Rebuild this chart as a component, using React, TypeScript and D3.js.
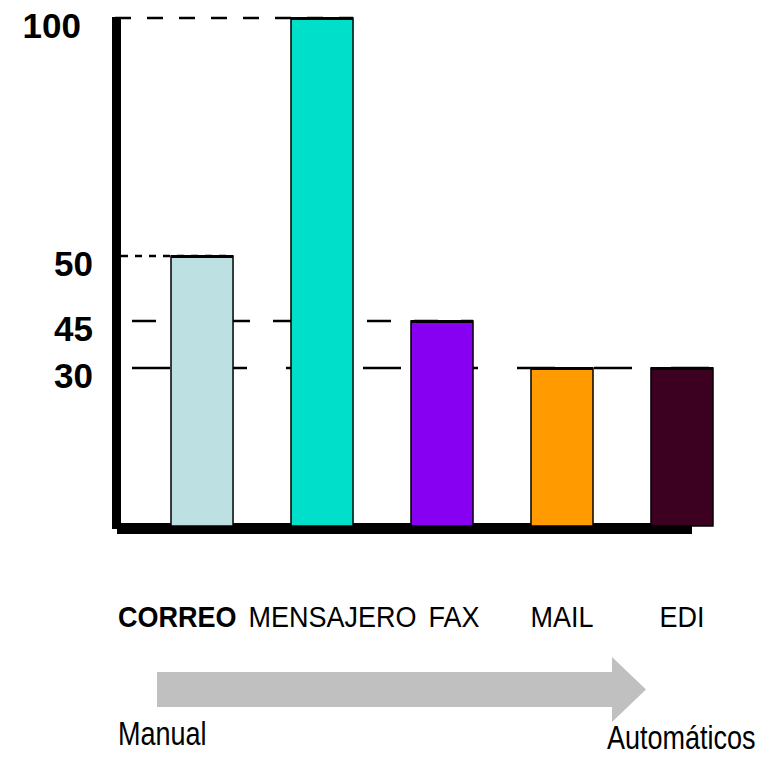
import React from "react";
import * as d3 from "d3";

const categories = ["CORREO", "MENSAJERO", "FAX", "MAIL", "EDI"];
const values = [50, 100, 45, 30, 30];
const colors = ["#bde0e3", "#00dfca", "#8700f2", "#ff9a00", "#3c0020"];
const yTicks = [30, 45, 50, 100];
const yTickLabels = ["30", "45", "50", "100"];
const arrowStart = "Manual";
const arrowEnd = "Automáticos";

const W = 772;
const H = 778;
const FONT = "'Liberation Sans', Arial, Helvetica, sans-serif";
const CAT_SIZE = 27;

function measure(text: string, bold: boolean): number {
  const canvas = document.createElement("canvas");
  const ctx = canvas.getContext("2d");
  if (!ctx) return text.length * CAT_SIZE * 0.65;
  ctx.font = `${bold ? "bold " : ""}${CAT_SIZE}px ${FONT}`;
  return ctx.measureText(text).width;
}

export default function App() {
  // schematic (non-proportional) value axis, calibrated to the reference
  const y = d3
    .scaleLinear()
    .domain([0, 30, 45, 50, 100])
    .range([526, 368, 321, 256, 18]);
  const x = d3
    .scaleBand<string>()
    .domain(categories)
    .range([120, 764])
    .paddingInner(0.483)
    .paddingOuter(0.425);
  const bw = x.bandwidth();
  const axisX = 112;
  const axisW = 9;
  const plotLeft = axisX + axisW;

  const dashFor: Record<number, string> = {
    100: "16 16",
    50: "7 7",
    45: "24 23",
    30: "38 39",
  };
  const dashStart: Record<number, number> = { 100: 115, 50: 121, 45: 132, 30: 132 };

  // category label placement: first label starts at axis, others centred on
  // their bar, pushed right when they would crowd the previous label
  const labelGap = 12;
  const labelPos: { x: number; anchor: string }[] = [];
  let prevEnd = 0;
  categories.forEach((c, i) => {
    const w = measure(c, i === 0);
    if (i === 0) {
      labelPos.push({ x: 118, anchor: "start" });
      prevEnd = 118 + w;
    } else {
      const cx = Math.max((x(c) as number) + bw / 2, prevEnd + labelGap + w / 2);
      labelPos.push({ x: cx, anchor: "middle" });
      prevEnd = cx + w / 2;
    }
  });

  const arrowY0 = 672;
  const arrowY1 = 707;
  const arrowX0 = 157;
  const headX = 612;
  const tipX = 646;
  const headTop = 657;
  const headBot = 722;
  const arrowPath = d3.path();
  arrowPath.moveTo(arrowX0, arrowY0);
  arrowPath.lineTo(headX, arrowY0);
  arrowPath.lineTo(headX, headTop);
  arrowPath.lineTo(tipX, (arrowY0 + arrowY1) / 2);
  arrowPath.lineTo(headX, headBot);
  arrowPath.lineTo(headX, arrowY1);
  arrowPath.lineTo(arrowX0, arrowY1);
  arrowPath.closePath();

  return (
    <svg
      width={W}
      height={H}
      viewBox={`0 0 ${W} ${H}`}
      style={{ position: "absolute", left: 0, top: 0, background: "#fff" }}
    >
      <rect x={0} y={0} width={W} height={H} fill="#fff" />
      {/* reference lines */}
      {yTicks.map((t) => {
        const ends = categories
          .map((c, i) => (values[i] === t ? (x(c) as number) + bw : -1))
          .filter((v) => v > 0);
        const xEnd = ends.length ? Math.max(...ends) : plotLeft;
        return (
          <line
            key={"g" + t}
            x1={dashStart[t]}
            x2={xEnd}
            y1={y(t)}
            y2={y(t)}
            stroke="#000"
            strokeWidth={2.5}
            strokeDasharray={dashFor[t]}
          />
        );
      })}
      {/* axes */}
      <rect x={axisX} y={17} width={axisW} height={529 - 17} fill="#000" />
      <rect x={axisX} y={523} width={692 - axisX} height={6} fill="#000" />
      <rect x={axisX + 5} y={529} width={692 - axisX - 5} height={5} fill="#000" />
      {/* bars */}
      {categories.map((c, i) => (
        <g key={c}>
          <rect
            x={x(c) as number}
            y={y(values[i])}
            width={bw}
            height={y(0) - y(values[i])}
            fill={colors[i]}
            stroke="#000"
            strokeWidth={1.5}
          />
          <line
            x1={x(c) as number}
            x2={(x(c) as number) + bw}
            y1={y(values[i]) + 0.5}
            y2={y(values[i]) + 0.5}
            stroke="#000"
            strokeWidth={3}
          />
        </g>
      ))}
      {/* y tick labels */}
      {yTicks.map((t, i) => (
        <text
          key={"l" + t}
          x={yTickLabels[i].length > 2 ? 81 : 93}
          y={y(t) + 20}
          textAnchor="end"
          fontFamily={FONT}
          fontWeight="bold"
          fontSize={35}
          fill="#000"
        >
          {yTickLabels[i]}
        </text>
      ))}
      {/* category labels */}
      {categories.map((c, i) => (
        <text
          key={"c" + c}
          transform={`translate(${labelPos[i].x},627) scale(1,1.08)`}
          textAnchor={labelPos[i].anchor}
          fontFamily={FONT}
          fontWeight={i === 0 ? "bold" : "normal"}
          fontSize={CAT_SIZE}
          fill="#000"
        >
          {c}
        </text>
      ))}
      {/* arrow */}
      <path d={arrowPath.toString()} fill="#c0c0c0" />
      <text
        transform="translate(118,745) scale(1,1.25)"
        fontFamily={FONT}
        fontSize={27}
        fill="#000"
      >
        {arrowStart}
      </text>
      <text
        transform="translate(607,749) scale(1,1.25)"
        fontFamily={FONT}
        fontSize={27}
        fill="#000"
      >
        {arrowEnd}
      </text>
    </svg>
  );
}
